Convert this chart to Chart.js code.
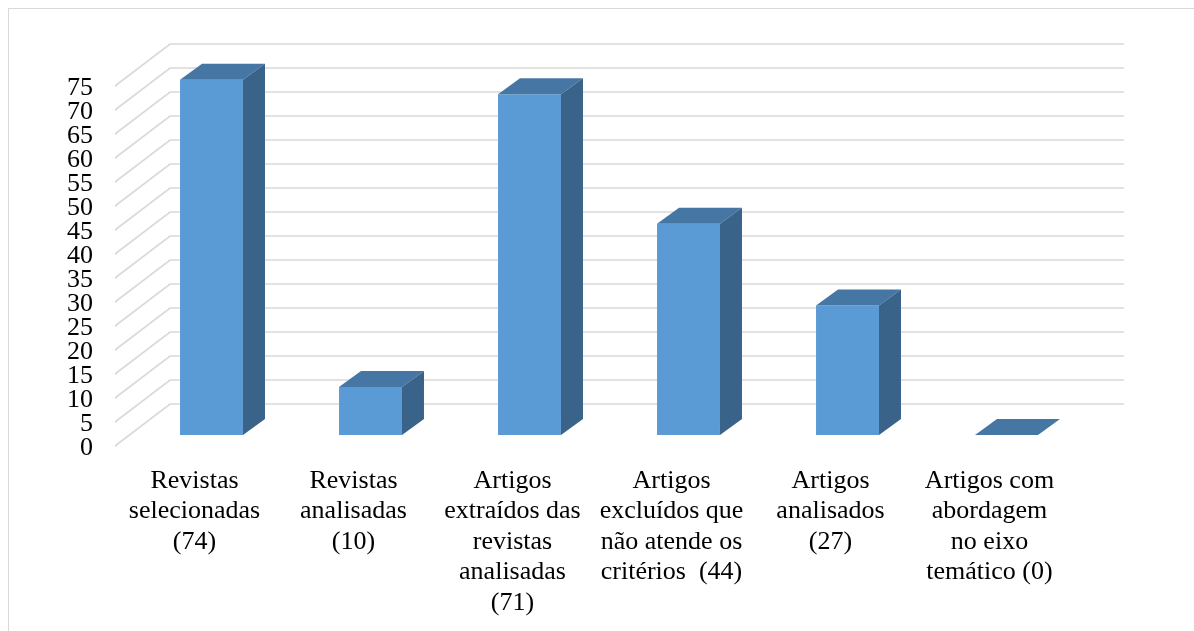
<!DOCTYPE html>
<html>
<head>
<meta charset="utf-8">
<script src="https://cdn.jsdelivr.net/npm/chart.js@4"></script>
<style>
    body { margin: 0; background: #fff; }
</style>
</head>
<body>
<canvas id="myChart" width="1194" height="631"></canvas>
<script>
// categorias (rotulos de varias linhas)
var categories = [
    ["Revistas", "selecionadas", "(74)"],
    ["Revistas", "analisadas", "(10)"],
    ["Artigos", "extraídos das", "revistas", "analisadas", "(71)"],
    ["Artigos", "excluídos que", "não atende os", "critérios  (44)"],
    ["Artigos", "analisados", "(27)"],
    ["Artigos com", "abordagem", "no eixo", "temático (0)"]
];
var figures = [74, 10, 71, 44, 27, 0];
var yTicks = [0, 5, 10, 15, 20, 25, 30, 35, 40, 45, 50, 55, 60, 65, 70, 75];

// offsets da "perspectiva" 3D
var front = {dx: -17, dy: 11};
var back = {dx: 38, dy: -31};
var depth = {dx: 22, dy: -16};

var frame3d = {
    id: 'frame3d',
    beforeDraw: function (chart) {
        var c = chart.ctx;
        c.save();
        c.fillStyle = '#fff';
        c.fillRect(0, 0, chart.width, chart.height);
        c.strokeStyle = '#d9d9d9';
        c.lineWidth = 1;
        c.strokeRect(8.5, 8.5, 1400, 1400);
        c.restore();
    },
    beforeDatasetsDraw: function (chart) {
        var c = chart.ctx;
        var area = chart.chartArea;
        var ys = chart.scales.y;
        c.save();
        c.strokeStyle = '#d9d9d9';
        c.lineWidth = 1.6;
        $each(yTicks, function (v) {
            var py = ys.getPixelForValue(v);
            c.beginPath();
            c.moveTo(area.left + front.dx, py + front.dy);
            c.lineTo(area.left + back.dx, py + back.dy);
            c.lineTo(area.right + back.dx, py + back.dy);
            c.stroke();
        });
        c.restore();
    },
    afterDatasetsDraw: function (chart) {
        var c = chart.ctx;
        var meta = chart.getDatasetMeta(0);
        c.save();
        meta.data.forEach(function (bar) {
            var p = bar.getProps(['x', 'y', 'base', 'width'], true);
            var l = p.x - p.width / 2, r = p.x + p.width / 2;
            // topo
            c.fillStyle = '#4676a3';
            c.beginPath();
            c.moveTo(l, p.y);
            c.lineTo(l + depth.dx, p.y + depth.dy);
            c.lineTo(r + depth.dx, p.y + depth.dy);
            c.lineTo(r, p.y);
            c.closePath();
            c.fill();
            // lateral
            if (p.base - p.y > 0) {
                c.fillStyle = '#3a6389';
                c.beginPath();
                c.moveTo(r, p.y);
                c.lineTo(r + depth.dx, p.y + depth.dy);
                c.lineTo(r + depth.dx, p.base + depth.dy);
                c.lineTo(r, p.base);
                c.closePath();
                c.fill();
            }
        });
        c.restore();
    }
};

function $each(arr, fn) {
    for (var i = 0; i < arr.length; i++) {
        fn(arr[i], i);
    }
}

var ctx = document.getElementById("myChart");
var myChart = new Chart(ctx, {
    type: 'bar',
    data: {
        labels: categories,
        datasets: [{
            "backgroundColor": "#5b9bd5",
            "borderWidth": 0,
            "categoryPercentage": 1,
            "barPercentage": 0.396,
            "data": figures
        }]
    },
    options: {
        responsive: false,
        animation: false,
        events: [],
        layout: {
            padding: {top: 75, right: 108, left: 0, bottom: 0}
        },
        plugins: {
            legend: {display: false},
            tooltip: {enabled: false}
        },
        scales: {
            x: {
                grid: {display: false, drawTicks: false},
                border: {display: false},
                afterFit: function (s) { s.height = 196; },
                ticks: {
                    color: '#000',
                    font: {family: 'Liberation Serif', size: 26, lineHeight: 1.17},
                    padding: 31,
                    labelOffset: -17,
                    maxRotation: 0,
                    minRotation: 0,
                    autoSkip: false
                }
            },
            y: {
                min: 0,
                max: 75,
                grid: {display: false, drawTicks: false},
                border: {display: false},
                afterFit: function (s) { s.width = 132; },
                ticks: {
                    stepSize: 5,
                    autoSkip: false,
                    color: '#000',
                    font: {family: 'Liberation Serif', size: 26},
                    padding: 39,
                    labelOffset: 13
                }
            }
        }
    },
    plugins: [frame3d]
});
</script>
</body>
</html>
